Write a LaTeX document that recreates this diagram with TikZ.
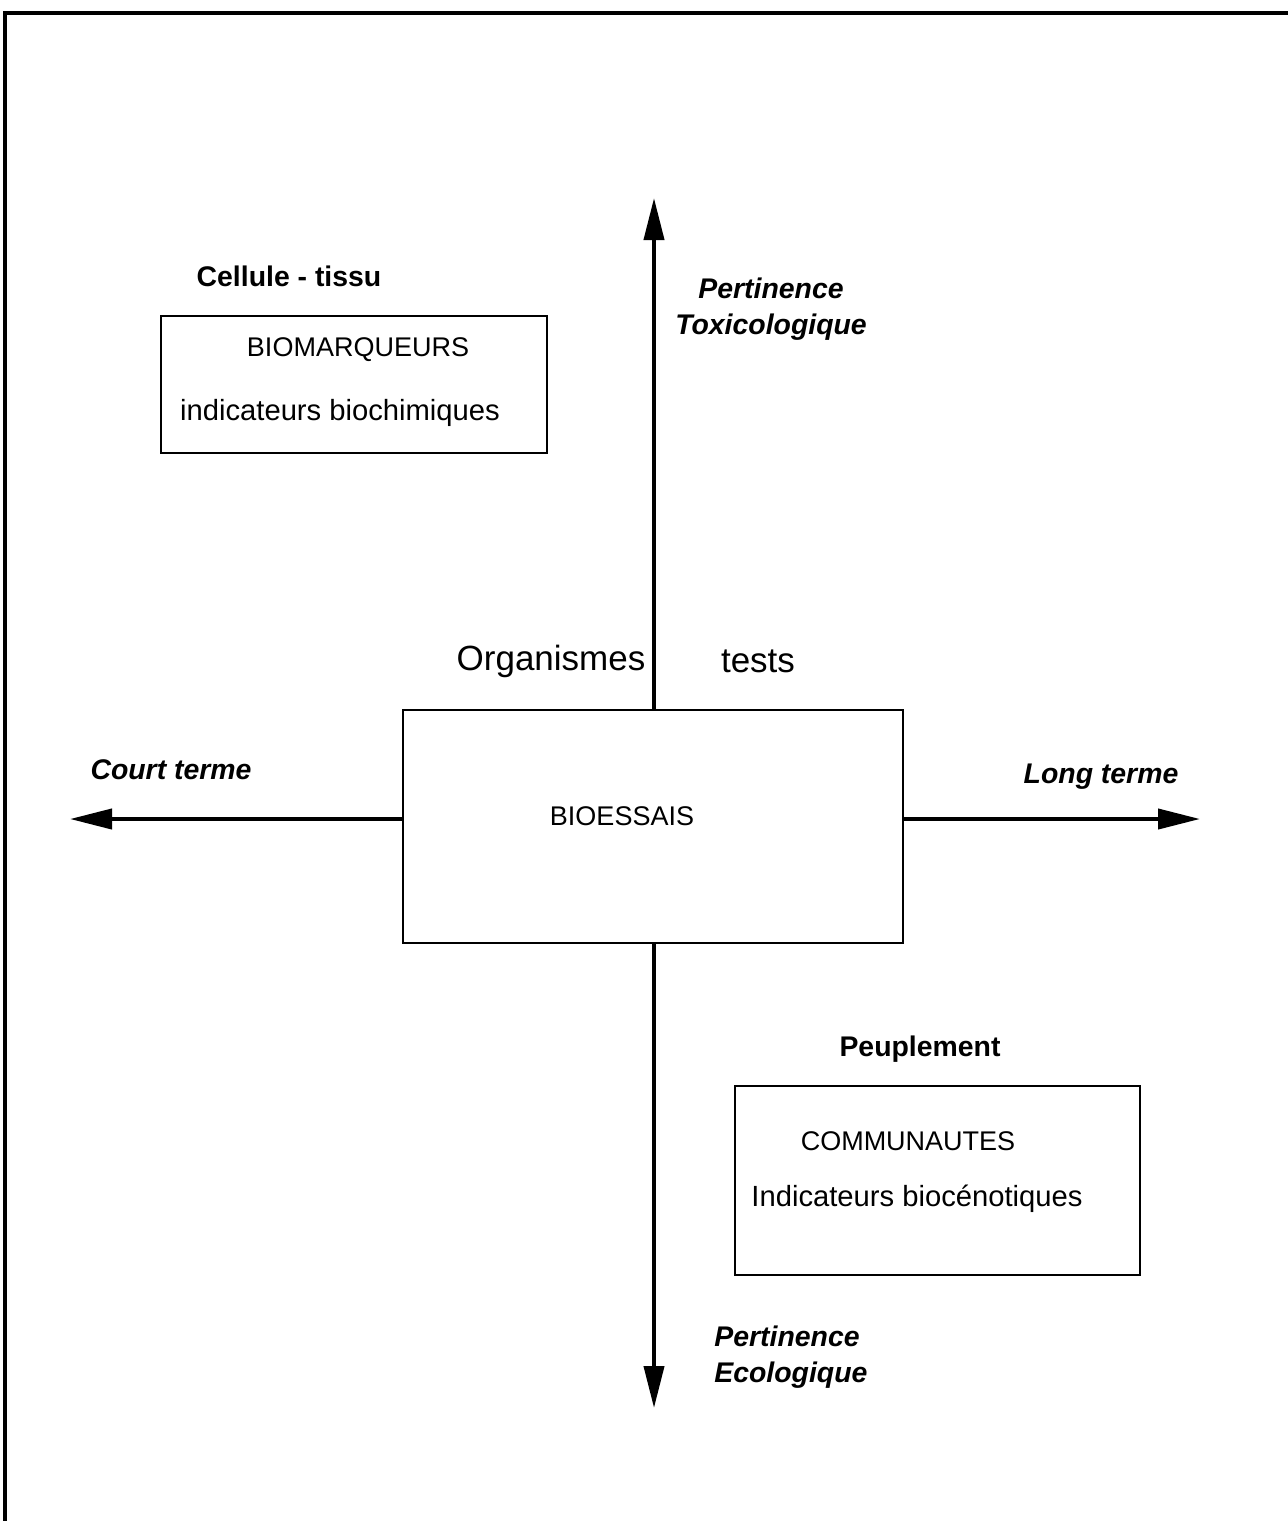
\documentclass[tikz,border=0pt]{standalone}
\usepackage{fontspec}
\setmainfont{Liberation Sans}
\usetikzlibrary{arrows.meta,positioning}

\begin{document}
\begin{tikzpicture}[x=0.5pt,y=-0.5pt,%
		   box/.style={draw,line width=1.3pt,rectangle,inner sep=0pt},
		   boxtext/.style={font=\fontsize{14.6}{17}\selectfont,inner sep=0pt},
		   boxtitle/.style={font=\fontsize{13.5}{16}\selectfont,inner sep=0pt},
		   level/.style={font=\bfseries\fontsize{14.2}{17}\selectfont,inner sep=0pt},
		   relevance/.style={font=\bfseries\itshape\fontsize{14.2}{18}\selectfont,inner sep=0pt},
		   organism/.style={font=\fontsize{17.5}{20}\selectfont,inner sep=0pt},
		   axis/.style={line width=2pt,-{Triangle[length=21pt,width=10pt]}}]

	\useasboundingbox (0,0) rectangle (1288,1521);
	\draw[line width=2pt] (5,1521) -- (5,13) -- (1288,13);

	% central box and the two axes
	\node[box,minimum width=250pt,minimum height=116.5pt] (bio) at (653,826.5) {};
	\node[boxtitle] (bio-t) at (622,816) {BIOESSAIS};
	\coordinate (tipN) at (654,198);
	\coordinate (tipS) at (654,1408);
	\coordinate (tipW) at (70,819);
	\coordinate (tipE) at (1200,819);
	\draw[axis] (bio.north -| tipN) -- (tipN);
	\draw[axis] (bio.south -| tipS) -- (tipS);
	\draw[axis] (bio.west |- tipW) -- (tipW);
	\draw[axis] (bio.east |- tipE) -- (tipE);

	\node[organism] (org) at (551,661) {Organismes};
	\node[organism] (tests) at (758,661) {tests};
	\node[relevance] (court) at (171,770) {Court terme};
	\node[relevance] (long) at (1101,777) {Long terme};
	\node[relevance,align=center] (tox) at (771,309) {Pertinence\\Toxicologique};
	\node[relevance,align=left,anchor=west] (eco) at (714,1357) {Pertinence\\Ecologique};

	% upper left box
	\node[level] (cell) at (289,276) {Cellule - tissu};
	\node[box,minimum width=193pt,minimum height=68.5pt] (biom) at (354,384.5) {};
	\node[boxtitle] (biom-t) at (358,350) {BIOMARQUEURS};
	\node[boxtext] (biom-d) at (340,413) {indicateurs biochimiques};

	% lower right box
	\node[level] (peup) at (920,1049) {Peuplement};
	\node[box,minimum width=202.5pt,minimum height=94.5pt] (comm) at (937.5,1180.5) {};
	\node[boxtitle] (comm-t) at (908,1141) {COMMUNAUTES};
	\node[boxtext] (comm-d) at (917,1199) {Indicateurs biocénotiques};

\end{tikzpicture}
\end{document}
